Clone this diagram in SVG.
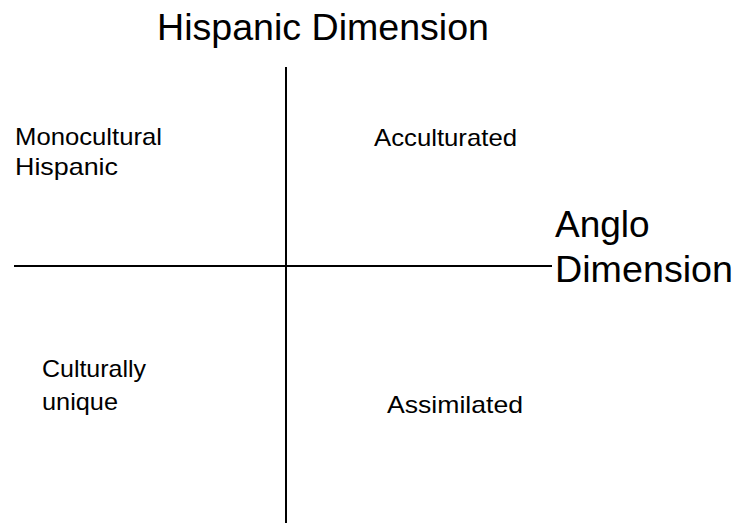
<svg xmlns="http://www.w3.org/2000/svg" width="734" height="523" viewBox="0 0 734 523">
<style>
.big{font-family:"Liberation Sans",Arial,sans-serif;font-size:37px;fill:#000}
.lbl{font-family:"Liberation Sans",Arial,sans-serif;font-size:24px;fill:#000}
.axis{stroke:#000;stroke-width:2;fill:none}
</style>
<rect width="734" height="523" fill="#fff"/>
<g id="connectors">
<line class="axis" x1="286" y1="67" x2="286" y2="523"/>
<line class="axis" x1="14" y1="266" x2="552" y2="266"/>
</g>
<g id="hispanic-dimension"><text class="big" x="157" y="40" textLength="332" lengthAdjust="spacingAndGlyphs">Hispanic Dimension</text></g>
<g id="anglo-dimension"><text class="big" x="555" y="237">Anglo</text><text class="big" x="555" y="282" textLength="178" lengthAdjust="spacingAndGlyphs">Dimension</text></g>
<g id="monocultural-hispanic"><text class="lbl" x="15" y="145" textLength="147" lengthAdjust="spacingAndGlyphs">Monocultural</text><text class="lbl" x="15" y="175" textLength="103" lengthAdjust="spacingAndGlyphs">Hispanic</text></g>
<g id="acculturated"><text class="lbl" x="374" y="146" textLength="143" lengthAdjust="spacingAndGlyphs">Acculturated</text></g>
<g id="culturally-unique"><text class="lbl" x="42" y="377" textLength="104" lengthAdjust="spacingAndGlyphs">Culturally</text><text class="lbl" x="42" y="410" textLength="76" lengthAdjust="spacingAndGlyphs">unique</text></g>
<g id="assimilated"><text class="lbl" x="387" y="413" textLength="136" lengthAdjust="spacingAndGlyphs">Assimilated</text></g>
</svg>
